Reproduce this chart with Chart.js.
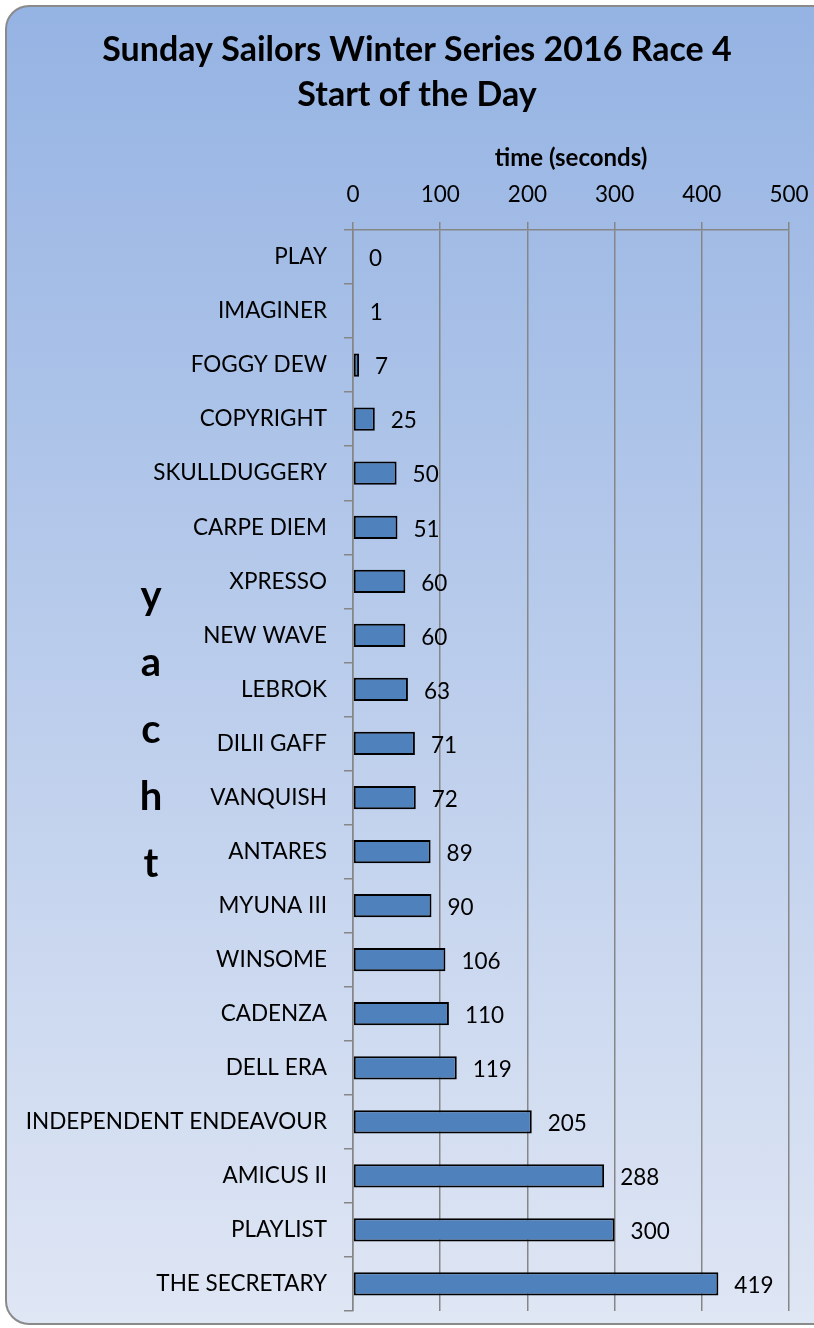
<!DOCTYPE html>
<html>
<head>
<meta charset="utf-8">
<script src="https://cdn.jsdelivr.net/npm/chart.js@4.4.0/dist/chart.umd.min.js"></script>
<style>
  html, body { margin: 0; padding: 0; background: #fff; overflow: hidden; }
  #frame {
    position: absolute; left: 5px; top: 5px; width: 829px; height: 1320px;
    box-sizing: border-box; border: 2px solid #8a8a8a; border-right: none; border-radius: 24px 0 0 24px;
    background: linear-gradient(to bottom, #95b3e3 0%, #dfe6f4 100%);
  }
  #wrap { position: absolute; left: 0; top: 0; width: 834px; height: 1328px; }
</style>
</head>
<body>
<div id="frame"></div>
<div id="wrap"><canvas id="raceChart" width="834" height="1328"></canvas></div>
<script>
var titleLines = ['Sunday Sailors Winter Series 2016 Race 4', 'Start of the Day'];
var yachts = ['PLAY', 'IMAGINER', 'FOGGY DEW', 'COPYRIGHT', 'SKULLDUGGERY', 'CARPE DIEM',
  'XPRESSO', 'NEW WAVE', 'LEBROK', 'DILII GAFF', 'VANQUISH', 'ANTARES', 'MYUNA III',
  'WINSOME', 'CADENZA', 'DELL ERA', 'INDEPENDENT ENDEAVOUR', 'AMICUS II', 'PLAYLIST',
  'THE SECRETARY'];
var startTimes = [0, 1, 7, 25, 50, 51, 60, 60, 63, 71, 72, 89, 90, 106, 110, 119, 205, 288, 300, 419];
var timeTicks = [0, 100, 200, 300, 400, 500];
var xTitle = 'time (seconds)';
var yTitle = 'yacht';

var FONT = 'Lato, "Open Sans", sans-serif';
Chart.defaults.font.family = FONT;
Chart.defaults.color = '#000';

// value labels just past the end of each bar
var valueLabels = {
  id: 'valueLabels',
  afterDatasetsDraw: function (chart) {
    var ctx = chart.ctx;
    var meta = chart.getDatasetMeta(0);
    ctx.save();
    ctx.font = '22.5px ' + FONT;
    ctx.fillStyle = '#000';
    ctx.textAlign = 'left';
    ctx.textBaseline = 'middle';
    meta.data.forEach(function (bar, i) {
      ctx.fillText(String(startTimes[i]), bar.x + 16, bar.y + 2);
    });
    ctx.restore();
  }
};

// two-line title centred on the whole frame, plus stacked letters for the y title
var headings = {
  id: 'headings',
  afterDraw: function (chart) {
    var ctx = chart.ctx;
    ctx.save();
    ctx.fillStyle = '#000';
    ctx.textAlign = 'center';
    ctx.textBaseline = 'middle';
    ctx.font = 'bold 34px ' + FONT;
    titleLines.forEach(function (line, i) {
      ctx.fillText(line, chart.width / 2, 50 + i * 45);
    });

    var letters = yTitle.split('');
    var mid = chart.chartArea.top + 500;
    var gap = 67;
    ctx.font = 'bold 40px ' + FONT;
    letters.forEach(function (ch, i) {
      ctx.fillText(ch, 151, mid + (i - (letters.length - 1) / 2) * gap);
    });
    ctx.restore();
  }
};

new Chart(document.getElementById('raceChart'), {
  type: 'bar',
  data: {
    labels: yachts,
    datasets: [{
      label: xTitle,
      data: startTimes,
      backgroundColor: '#4f81bd',
      borderColor: '#000',
      borderWidth: 2,
      borderSkipped: false,
      barPercentage: 0.43,
      categoryPercentage: 1
    }]
  },
  options: {
    indexAxis: 'y',
    responsive: false,
    animation: false,
    layout: { padding: { left: 0, right: 45, top: 130, bottom: 17 } },
    plugins: {
      legend: { display: false },
      tooltip: { enabled: false },
      title: { display: false }
    },
    scales: {
      x: {
        position: 'top',
        min: 0,
        max: 500,
        afterBuildTicks: function (s) { s.ticks = timeTicks.map(function (v) { return { value: v }; }); },
        afterFit: function (s) { s.height = 100; },
        ticks: { font: { size: 22.5 }, color: '#000', padding: 14, maxRotation: 0 },
        grid: { color: '#868686', lineWidth: 1.5, tickLength: 8 },
        border: { color: '#868686', width: 1.5 },
        title: {
          display: true,
          text: xTitle,
          font: { size: 24, weight: 'bold' },
          color: '#000',
          padding: { top: 14, bottom: 2 }
        }
      },
      y: {
        afterFit: function (s) {
          s.width = 353;
          s.paddingTop = 0;
          s.paddingBottom = 0;
        },
        ticks: { font: { size: 22.5 }, color: '#000', padding: 17, autoSkip: false },
        grid: { color: '#868686', lineWidth: 1.5, tickLength: 9, drawOnChartArea: false, offset: true },
        border: { color: '#868686', width: 1.5 }
      }
    }
  },
  plugins: [valueLabels, headings]
});
</script>
</body>
</html>
